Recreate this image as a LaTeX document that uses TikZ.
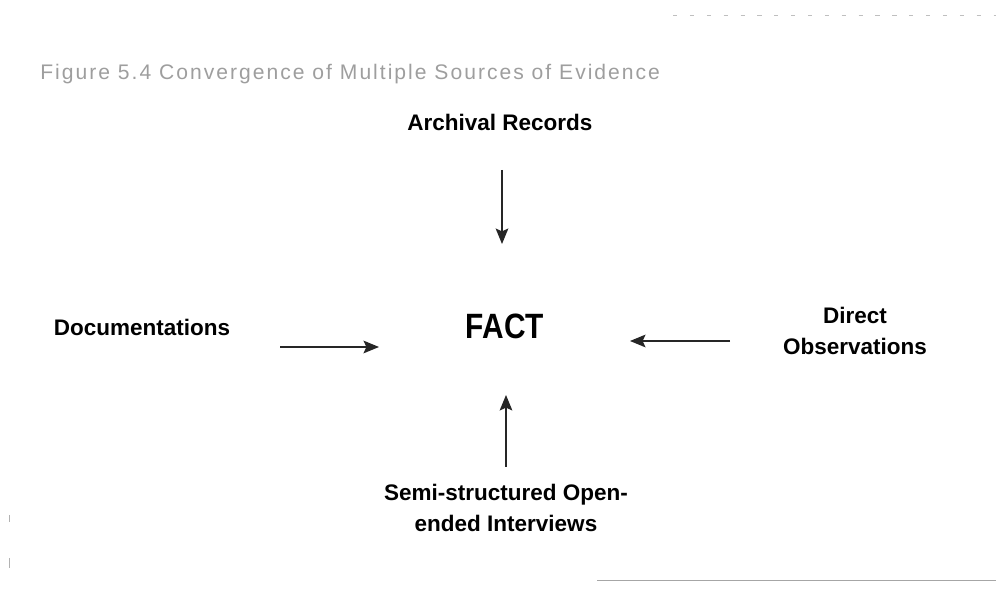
\documentclass[tikz,border=0pt]{standalone}
\usepackage{fontspec}
\setmainfont{Liberation Sans}
\usetikzlibrary{arrows.meta}
\tikzstyle{arrow} = [line width=1pt,black!85,-{Stealth[length=11pt,width=9pt,inset=2pt]}]
\tikzstyle{source} = [inner sep=0pt,align=center,font=\bfseries\fontsize{16}{21.5}\selectfont]

\begin{document}
\begin{tikzpicture}[x=0.025cm,y=-0.025cm]
\useasboundingbox (0,0) rectangle (996,589);

% caption
\node [anchor=base west,inner sep=0pt,text=black!38,font=\fontsize{15}{18}\selectfont\addfontfeatures{LetterSpace=9.5}] (title) at (40,80) {Figure 5.4 Convergence of Multiple Sources of Evidence};

% sources round the fact
\node [source,anchor=base] (arch) at (500,131) {Archival Records};
\node [source,anchor=base] (doc) at (142,336) {Documentations};
\node [source] (direct) at (855,331) {Direct\\Observations};
\node [source] (semi) at (506,508) {Semi-structured Open-\\ended Interviews};

\node [anchor=base,inner sep=0pt,xscale=0.85,transform shape,font=\bfseries\fontsize{25}{30}\selectfont] (fact) at (505,339) {FACT};

% arrow ends
\coordinate (archout) at (502,170);
\coordinate (archin) at (502,244);
\coordinate (docout) at (280,347);
\coordinate (docin) at (379,347);
\coordinate (directout) at (730,341);
\coordinate (directin) at (630,341);
\coordinate (semiout) at (506,467);
\coordinate (semiin) at (506,395);

\draw [arrow] (archout) to (archin);
\draw [arrow] (docout) to (docin);
\draw [arrow] (directout) to (directin);
\draw [arrow] (semiout) to (semiin);

% page edges
\draw [black!25,dash pattern=on 3pt off 9pt,line width=0.5pt] (673,15) -- (996,15);
\draw [black!35,line width=0.5pt] (597,580) -- (996,580);
\draw [black!30,line width=0.4pt] (9,515) -- (9,522);
\draw [black!30,line width=0.4pt] (9,558) -- (9,568);

\end{tikzpicture}
\end{document}
